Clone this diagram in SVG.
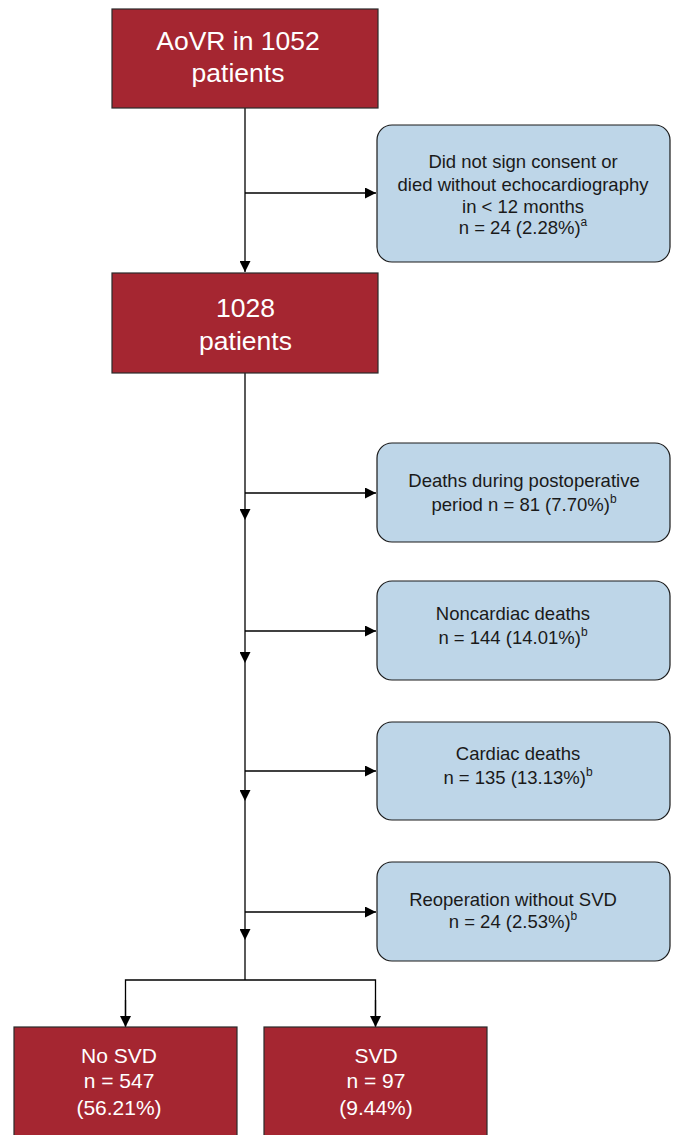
<svg xmlns="http://www.w3.org/2000/svg" width="676" height="1135" viewBox="0 0 676 1135">
<style>
.red{fill:#A52631;stroke:#2a2a2a;stroke-width:1.2}
.blue{fill:#BED6E8;stroke:#1a1a1a;stroke-width:1.2}
.tw{font-family:"Liberation Sans",Arial,sans-serif;fill:#fff;text-anchor:middle}
.tb{font-family:"Liberation Sans",Arial,sans-serif;fill:#1a1a1a;text-anchor:middle;font-size:18.5px}
.big{font-size:26.5px}
.mid{font-size:21px}
.ln{fill:none;stroke:#000;stroke-width:1.3}
</style>
<defs>
<marker id="ah" viewBox="0 0 10 10" refX="10" refY="5" markerWidth="11" markerHeight="11" markerUnits="userSpaceOnUse" orient="auto">
<path d="M0,0 L10,5 L0,10 Z" fill="#000"/>
</marker>
</defs>
<rect width="676" height="1135" fill="#fff"/>
<g id="connectors">
<line class="ln" x1="245" y1="108" x2="245" y2="272" marker-end="url(#ah)"/>
<line class="ln" x1="245" y1="193" x2="376" y2="193" marker-end="url(#ah)"/>
<line class="ln" x1="245" y1="373" x2="245" y2="520" marker-end="url(#ah)"/>
<line class="ln" x1="245" y1="520" x2="245" y2="663" marker-end="url(#ah)"/>
<line class="ln" x1="245" y1="663" x2="245" y2="801" marker-end="url(#ah)"/>
<line class="ln" x1="245" y1="801" x2="245" y2="940" marker-end="url(#ah)"/>
<line class="ln" x1="245" y1="940" x2="245" y2="980"/>
<line class="ln" x1="245" y1="493" x2="376" y2="493" marker-end="url(#ah)"/>
<line class="ln" x1="245" y1="631" x2="376" y2="631" marker-end="url(#ah)"/>
<line class="ln" x1="245" y1="771" x2="376" y2="771" marker-end="url(#ah)"/>
<line class="ln" x1="245" y1="912" x2="376" y2="912" marker-end="url(#ah)"/>
<polyline class="ln" points="125.5,1026 125.5,980 375.5,980 375.5,1026"/>
<line class="ln" x1="125.5" y1="1000" x2="125.5" y2="1027" marker-end="url(#ah)"/>
<line class="ln" x1="375.5" y1="1000" x2="375.5" y2="1027" marker-end="url(#ah)"/>
</g>
<g id="n1">
<rect class="red" x="112" y="9" width="266" height="99"/>
<text class="tw big" x="238" y="50">AoVR in 1052</text>
<text class="tw big" x="238" y="82">patients</text>
</g>
<g id="n2">
<rect class="blue" x="377" y="125" width="293" height="137" rx="15"/>
<text class="tb" x="523" y="168">Did not sign consent or</text>
<text class="tb" x="523" y="191">died without echocardiography</text>
<text class="tb" x="523" y="213">in &lt; 12 months</text>
<text class="tb" x="523" y="234">n = 24 (2.28%)<tspan font-size="12" dy="-8">a</tspan></text>
</g>
<g id="n3">
<rect class="red" x="112" y="273" width="266" height="100"/>
<text class="tw big" x="245.5" y="317">1028</text>
<text class="tw big" x="245.5" y="350">patients</text>
</g>
<g id="n4">
<rect class="blue" x="377" y="443" width="293" height="99" rx="15"/>
<text class="tb" x="524" y="487">Deaths during postoperative</text>
<text class="tb" x="524" y="511">period n = 81 (7.70%)<tspan font-size="12" dy="-8">b</tspan></text>
</g>
<g id="n5">
<rect class="blue" x="377" y="581" width="293" height="99" rx="15"/>
<text class="tb" x="513" y="620">Noncardiac deaths</text>
<text class="tb" x="513" y="644">n = 144 (14.01%)<tspan font-size="12" dy="-8">b</tspan></text>
</g>
<g id="n6">
<rect class="blue" x="377" y="722" width="293" height="98" rx="15"/>
<text class="tb" x="518" y="760">Cardiac deaths</text>
<text class="tb" x="518" y="784">n = 135 (13.13%)<tspan font-size="12" dy="-8">b</tspan></text>
</g>
<g id="n7">
<rect class="blue" x="377" y="862" width="293" height="99" rx="15"/>
<text class="tb" x="513" y="906">Reoperation without SVD</text>
<text class="tb" x="513" y="928">n = 24 (2.53%)<tspan font-size="12" dy="-8">b</tspan></text>
</g>
<g id="n8">
<rect class="red" x="14" y="1027" width="223" height="120"/>
<text class="tw mid" x="119" y="1063">No SVD</text>
<text class="tw mid" x="119" y="1088">n = 547</text>
<text class="tw mid" x="119" y="1115">(56.21%)</text>
</g>
<g id="n9">
<rect class="red" x="264" y="1027" width="223" height="120"/>
<text class="tw mid" x="376" y="1063">SVD</text>
<text class="tw mid" x="376" y="1088">n = 97</text>
<text class="tw mid" x="376" y="1115">(9.44%)</text>
</g>
</svg>
